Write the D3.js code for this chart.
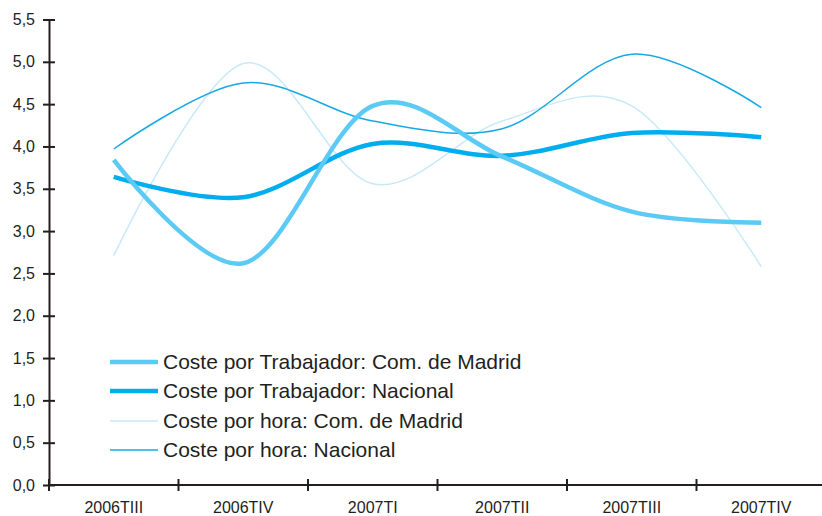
<!DOCTYPE html>
<html>
<head>
<meta charset="utf-8">
<script src="https://cdn.jsdelivr.net/npm/d3@7"></script>
<style>
  body { margin: 0; background: #fff; }
  text { font-family: "Liberation Sans", Arial, sans-serif; fill: #231f20; }
</style>
</head>
<body>
<svg id="chart" width="822" height="516"></svg>
<script>
  // quarters and series
  var quarters = ['2006TIII', '2006TIV', '2007TI', '2007TII', '2007TIII', '2007TIV'];
  var trabajadorMadrid = [3.84, 2.62, 4.48, 3.88, 3.23, 3.10];
  var trabajadorNacional = [3.64, 3.40, 4.03, 3.89, 4.16, 4.11];
  var horaMadrid = [2.71, 4.98, 3.56, 4.30, 4.48, 2.58];
  var horaNacional = [3.97, 4.75, 4.30, 4.21, 5.09, 4.46];
  var yTicks = [0, 0.5, 1, 1.5, 2, 2.5, 3, 3.5, 4, 4.5, 5, 5.5];

  var series = [
    { name: 'Coste por Trabajador: Com. de Madrid', values: trabajadorMadrid, color: '#5bcbf5', width: 4.5 },
    { name: 'Coste por Trabajador: Nacional', values: trabajadorNacional, color: '#00aeef', width: 4.5 },
    { name: 'Coste por hora: Com. de Madrid', values: horaMadrid, color: '#c8eaf8', width: 1.5 },
    { name: 'Coste por hora: Nacional', values: horaNacional, color: '#18a8e6', width: 1.5 }
  ];

  var svg = d3.select('#chart');
  var x = d3.scaleBand().domain(quarters).range([49, 826]);
  var y = d3.scaleLinear().domain([0, 5.5]).range([485, 19.5]);
  var fmt = function(d) { return d3.format('.1f')(d).replace('.', ','); };

  // y axis
  var yAxis = svg.append('g')
    .attr('transform', 'translate(49,0)')
    .call(d3.axisLeft(y).tickValues(yTicks).tickFormat(fmt).tickSizeInner(6).tickSizeOuter(0));
  yAxis.select('.domain').attr('stroke', '#231f20').attr('stroke-width', 2);
  yAxis.selectAll('.tick line').attr('stroke', '#231f20').attr('stroke-width', 2).attr('x2', 6).attr('x1', -6);
  yAxis.selectAll('.tick text').attr('font-size', 16).attr('font-family', null).attr('x', -14);

  // x axis, ticks on band boundaries
  var xAxis = svg.append('g')
    .attr('transform', 'translate(0,485)');
  xAxis.append('line')
    .attr('x1', 49).attr('x2', 822)
    .attr('stroke', '#231f20').attr('stroke-width', 2);
  xAxis.selectAll('.xtick')
    .data(quarters)
    .join('line')
    .attr('class', 'xtick')
    .attr('x1', function(d) { return x(d); })
    .attr('x2', function(d) { return x(d); })
    .attr('y1', -6).attr('y2', 6)
    .attr('stroke', '#231f20').attr('stroke-width', 2);
  xAxis.selectAll('.xlabel')
    .data(quarters)
    .join('text')
    .attr('class', 'xlabel')
    .attr('x', function(d) { return x(d) + x.bandwidth() / 2; })
    .attr('y', 28)
    .attr('text-anchor', 'middle')
    .attr('font-size', 16)
    .text(function(d) { return d; });

  // lines
  var line = d3.line()
    .x(function(d, i) { return x(quarters[i]) + x.bandwidth() / 2; })
    .y(function(d) { return y(d); })
    .curve(d3.curveCardinal.tension(0));

  // draw thin ones first, then thick
  var order = [2, 3, 1, 0];
  order.forEach(function(k) {
    var s = series[k];
    svg.append('path')
      .datum(s.values)
      .attr('fill', 'none')
      .attr('stroke', s.color)
      .attr('stroke-width', s.width)
      .attr('stroke-linejoin', 'round')
      .attr('d', line);
  });

  // legend
  var legendY = [362, 391, 421, 450];
  var legend = svg.append('g');
  series.forEach(function(s, i) {
    legend.append('line')
      .attr('x1', 110).attr('x2', 158)
      .attr('y1', legendY[i]).attr('y2', legendY[i])
      .attr('stroke', s.color)
      .attr('stroke-width', s.width);
    legend.append('text')
      .attr('x', 163)
      .attr('y', legendY[i])
      .attr('dy', '0.35em')
      .attr('font-size', 21)
      .text(s.name);
  });
</script>
</body>
</html>
